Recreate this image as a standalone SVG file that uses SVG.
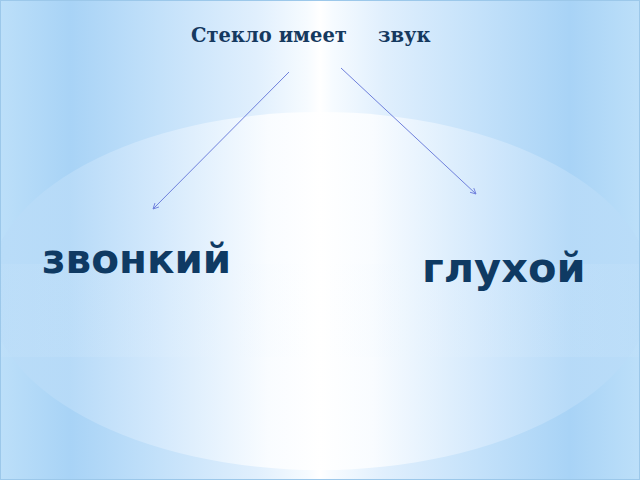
<svg xmlns="http://www.w3.org/2000/svg" width="640" height="480" viewBox="0 0 640 480">
<defs>
<linearGradient id="bg" x1="0" y1="0" x2="640" y2="0" gradientUnits="userSpaceOnUse">
<stop offset="0" stop-color="#bcdff9"/>
<stop offset="0.11" stop-color="#a8d3f6"/>
<stop offset="0.25" stop-color="#c3e1fa"/>
<stop offset="0.4" stop-color="#e0effd"/>
<stop offset="0.48" stop-color="#f6fbff"/>
<stop offset="0.5" stop-color="#ffffff"/>
<stop offset="0.52" stop-color="#f6fbff"/>
<stop offset="0.6" stop-color="#e0effd"/>
<stop offset="0.75" stop-color="#c3e1fa"/>
<stop offset="0.89" stop-color="#a8d3f6"/>
<stop offset="1" stop-color="#bcdff9"/>
</linearGradient>
<linearGradient id="glow" x1="-10" y1="0" x2="650" y2="0" gradientUnits="userSpaceOnUse">
<stop offset="0" stop-color="#b9dcf8"/>
<stop offset="0.12" stop-color="#b8dbf8"/>
<stop offset="0.24" stop-color="#d2e8fc"/>
<stop offset="0.35" stop-color="#ebf5fe"/>
<stop offset="0.42" stop-color="#fbfdff"/>
<stop offset="0.5" stop-color="#ffffff"/>
<stop offset="0.58" stop-color="#fbfdff"/>
<stop offset="0.65" stop-color="#ebf5fe"/>
<stop offset="0.76" stop-color="#d2e8fc"/>
<stop offset="0.88" stop-color="#b8dbf8"/>
<stop offset="1" stop-color="#b9dcf8"/>
</linearGradient>
<linearGradient id="band" x1="0" y1="0" x2="1" y2="0">
<stop offset="0" stop-color="#c8e4fa"/>
<stop offset="0.3" stop-color="#e4f1fd"/>
<stop offset="0.5" stop-color="#ffffff"/>
<stop offset="0.7" stop-color="#e4f1fd"/>
<stop offset="1" stop-color="#c8e4fa"/>
</linearGradient>
<marker id="arr" viewBox="0 0 10 10" refX="9" refY="5" markerWidth="7" markerHeight="7" orient="auto" markerUnits="userSpaceOnUse">
<path d="M1,1 L9,5 L1,9" fill="none" stroke="#6f80dc" stroke-width="1.3"/>
</marker>
<style>
.title{font-family:"DejaVu Serif","Liberation Serif",serif;font-weight:bold;font-size:19.5px;fill:#15395f}
.word{font-family:"DejaVu Sans","Noto Sans",sans-serif;font-weight:bold;fill:#0f3a63}
.conn{stroke:#6f80dc;stroke-width:1;fill:none}
</style>
</defs>
<rect x="0" y="0" width="640" height="480" fill="url(#bg)"/>
<ellipse cx="320" cy="291" rx="332" ry="179" fill="url(#glow)" opacity="0.9"/>
<rect x="0" y="264" width="640" height="93" fill="url(#band)" opacity="0.2"/>
<rect x="0.5" y="0.5" width="639" height="479" fill="none" stroke="#9cc8ea" stroke-width="1"/>
<g id="connectors">
<line class="conn" x1="289" y1="72" x2="153" y2="209" marker-end="url(#arr)"/>
<line class="conn" x1="341" y1="68" x2="476" y2="194" marker-end="url(#arr)"/>
</g>
<g id="node-title"><text class="title" x="191" y="42" xml:space="preserve">Стекло имеет   <tspan x="378">звук</tspan></text></g>
<g id="node-zvonkiy"><text class="word" x="42" y="273" font-size="40.5">звонкий</text></g>
<g id="node-gluhoy"><text class="word" x="422" y="282" font-size="41.5">глухой</text></g>
</svg>
